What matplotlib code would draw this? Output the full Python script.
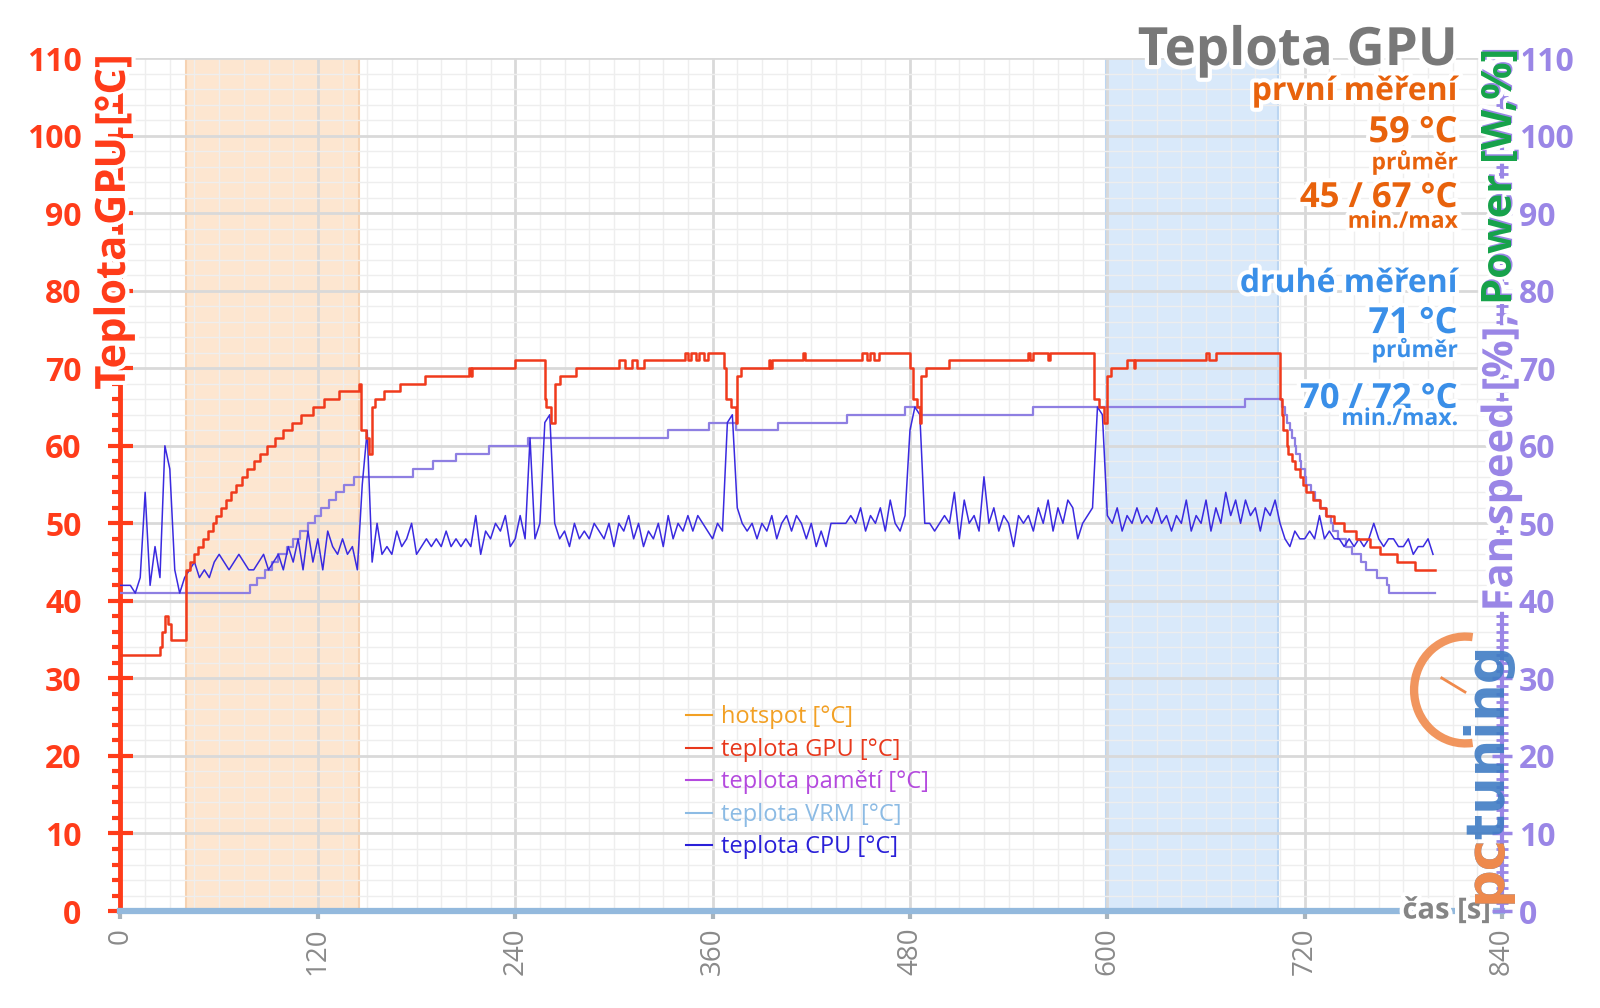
import matplotlib
matplotlib.use("Agg")
import matplotlib.pyplot as plt
import matplotlib.patheffects as pe
from matplotlib.lines import Line2D
from matplotlib.patches import Arc
from matplotlib.ticker import MultipleLocator
import numpy as np

plt.rcParams['font.family'] = ['Open Sans', 'DejaVu Sans']

# ── data ─────────────────────────────────────────────────────────────────
CPU_STEP = 3  # seconds between CPU samples
cpu_temp = [
    42, 42, 42, 41, 43, 54, 42, 47, 43, 60,
    57, 44, 41, 43, 44, 45, 43, 44, 43, 45,
    46, 45, 44, 45, 46, 45, 44, 44, 45, 46,
    44, 45, 46, 44, 47, 45, 48, 44, 49, 45,
    48, 44, 49, 47, 46, 48, 46, 47, 44, 55,
    62, 45, 50, 46, 47, 46, 49, 47, 48, 50,
    46, 47, 48, 47, 48, 47, 49, 47, 48, 47,
    48, 47, 51, 46, 49, 48, 50, 49, 51, 47,
    48, 51, 48, 61, 48, 50, 63, 64, 50, 48,
    49, 47, 50, 48, 49, 48, 50, 49, 48, 50,
    47, 50, 49, 51, 48, 50, 47, 49, 48, 50,
    47, 51, 48, 50, 49, 51, 49, 51, 50, 49,
    48, 50, 49, 63, 64, 52, 50, 49, 50, 48,
    50, 49, 51, 48, 50, 51, 49, 51, 50, 48,
    50, 47, 49, 47, 50, 50, 50, 50, 51, 50,
    52, 49, 51, 50, 52, 49, 53, 50, 49, 51,
    62, 65, 64, 50, 50, 49, 50, 51, 50, 54,
    48, 53, 50, 51, 49, 56, 50, 52, 49, 51,
    50, 47, 51, 50, 51, 49, 52, 50, 53, 49,
    52, 50, 53, 52, 48, 50, 51, 52, 65, 64,
    51, 50, 52, 49, 51, 50, 52, 50, 51, 50,
    52, 50, 51, 49, 51, 50, 53, 49, 51, 50,
    53, 49, 52, 50, 54, 51, 53, 50, 53, 51,
    52, 49, 52, 51, 53, 50, 48, 47, 49, 48,
    48, 49, 48, 51, 48, 49, 48, 48, 47, 48,
    47, 48, 47, 48, 50, 48, 47, 48, 48, 47,
    47, 48, 46, 47, 47, 48, 46,
]

# GPU temperature: (time of change, new value)
gpu_t = [0, 24, 25, 27, 29, 31, 40, 42, 45, 47, 50, 53, 56, 58, 61, 64, 67, 70,
         74, 77, 81, 85, 89, 94, 99, 104, 110, 117, 124, 133, 145, 146, 149, 151,
         153, 155, 160, 170, 185, 212, 213, 214, 240, 258, 259, 262, 264, 267,
         277, 303, 307, 311, 314, 318, 343, 345, 347, 350, 352, 355, 357, 367,
         368, 371, 374, 375, 377, 394, 395, 396, 415, 416, 451, 454, 456, 458,
         461, 480, 482, 484, 486, 487, 490, 504, 552, 553, 555, 564, 565, 592,
         595, 598, 600, 602, 612, 616, 617, 660, 662, 666, 705, 706, 707, 709,
         710, 712, 714, 717, 719, 721, 725, 729, 733, 738, 744, 751, 760, 766,
         776, 787, 799]
gpu_temp = [33, 34, 36, 38, 37, 35, 44, 45, 46, 47, 48, 49, 50, 51, 52, 53, 54, 55,
            56, 57, 58, 59, 60, 61, 62, 63, 64, 65, 66, 67, 68, 62, 61, 59,
            65, 66, 67, 68, 69, 70, 69, 70, 71, 66, 65, 63, 68, 69,
            70, 71, 70, 71, 70, 71, 72, 71, 72, 71, 72, 71, 72, 70,
            66, 65, 63, 69, 70, 71, 70, 71, 72, 71, 72, 71, 72, 71,
            72, 70, 66, 65, 63, 69, 70, 71, 72, 71, 72, 71, 72, 66,
            65, 63, 69, 70, 71, 70, 71, 72, 71, 72, 66, 64, 62, 60,
            59, 58, 57, 56, 55, 54, 53, 52, 51, 50, 49, 48, 47, 46,
            45, 44, 44]

# fan speed [%] (right axis): (time of change, new value)
fan_t = [0, 79, 83, 88, 92, 96, 101, 105, 109, 114, 118, 122, 127, 131, 136, 142,
         178, 190, 204, 224, 248, 333, 358, 374, 400, 442, 477, 487, 555, 684,
         706, 708, 709, 711, 712, 714, 715, 717, 718, 720, 721, 724, 726, 729,
         733, 736, 737, 740, 745, 749, 754, 757, 764, 770, 771, 799]
fan_speed = [41, 42, 43, 44, 45, 46, 47, 48, 49, 50, 51, 52, 53, 54, 55, 56,
             57, 58, 59, 60, 61, 62, 63, 62, 63, 64, 65, 64, 65, 66,
             65, 64, 63, 62, 61, 60, 59, 58, 57, 56, 55, 54, 53, 52,
             51, 50, 49, 48, 47, 46, 45, 44, 43, 42, 41, 41]

x_ticks = [0, 120, 240, 360, 480, 600, 720, 840]
y_ticks = [0, 10, 20, 30, 40, 50, 60, 70, 80, 90, 100, 110]
first_span = (40, 145)
second_span = (599, 704)

legend_labels = ["hotspot [°C]", "teplota GPU [°C]", "teplota pamětí [°C]",
                 "teplota VRM [°C]", "teplota CPU [°C]"]
legend_colors = ["#f2a024", "#e8381c", "#b44ade", "#8cbbe4", "#2a20d8"]

RED = "#ff3c1a"
LAV = "#9a86e6"
GREY = "#8a8a8a"
halo = [pe.withStroke(linewidth=6, foreground="white")]

# ── figure ──────────────────────────────────────────────────────────────
fig = plt.figure(figsize=(16, 10.08), dpi=100)
ax = fig.add_axes([0.0753, 0.0962, 0.8635, 0.8462])
ax.set_xlim(0, 840)
ax.set_ylim(0, 110)

ax.axvspan(*first_span, color="#fde6d0", zorder=0, lw=1.5, ec="#f6d2b2")
ax.axvspan(*second_span, color="#d9e9fa", zorder=0, lw=1.5, ec="#bcd6f2")

ax.set_axisbelow(True)
ax.xaxis.set_minor_locator(MultipleLocator(15))
ax.yaxis.set_minor_locator(MultipleLocator(2))
ax.grid(which="major", color="#d9d9d9", lw=2)
ax.grid(which="minor", color="#eeeeee", lw=1)

cpu_t = np.arange(len(cpu_temp)) * CPU_STEP
ax.plot(fan_t, fan_speed, drawstyle="steps-post", color="#8e7fe2", lw=1.6, zorder=3)
ax.plot(cpu_t, cpu_temp, color="#3a2ae0", lw=1.1, zorder=4)
ax.plot(gpu_t, gpu_temp, drawstyle="steps-post", color="#f03a1c", lw=1.8, zorder=5)

# axes styling
for s in ("top", "right"):
    ax.spines[s].set_visible(False)
ax.spines["left"].set_color(RED)
ax.spines["left"].set_linewidth(3.5)
ax.spines["bottom"].set_color("#93b9dd")
ax.spines["bottom"].set_linewidth(4.5)
ax.spines["bottom"].set_zorder(6)

ax.set_xticks(x_ticks)
ax.set_xticklabels([str(v) for v in x_ticks], rotation=90, color=GREY, fontsize=20)
ax.tick_params(axis="x", which="major", direction="out", length=6, width=3,
               color="#a9b4bc", pad=6)
ax.tick_params(axis="x", which="minor", length=0)

ax.set_yticks(y_ticks)
ax.set_yticklabels([str(v) for v in y_ticks], fontweight="bold", fontsize=23)
ax.tick_params(axis="y", which="major", direction="inout", length=18, width=3,
               color=RED, labelcolor=RED, pad=19)
ax.tick_params(axis="y", which="minor", direction="out", length=6, width=3, color=RED)

ax2 = ax.twinx()
ax2.set_ylim(0, 110)
for s in ("top", "left", "bottom"):
    ax2.spines[s].set_visible(False)
ax2.spines["right"].set_color(LAV)
ax2.spines["right"].set_linewidth(3)
ax2.yaxis.set_minor_locator(MultipleLocator(1))
ax2.set_yticks(y_ticks)
ax2.set_yticklabels([str(v) for v in y_ticks], fontweight="bold", fontsize=23)
ax2.tick_params(axis="y", which="major", direction="inout", length=14, width=2.5,
                color=LAV, labelcolor=LAV, pad=5)
ax2.tick_params(axis="y", which="minor", direction="inout", length=8, width=2, color=LAV)

# legend
handles = [Line2D([], [], color=c, lw=1.5) for c in legend_colors]
leg = ax.legend(handles, legend_labels, loc="upper left", bbox_to_anchor=(0.401, 0.255),
                frameon=False, fontsize=17, handlelength=1.1, handletextpad=0.35,
                labelspacing=0.36, borderpad=0, labelcolor="linecolor")
leg.set_zorder(7)

ax.text(833, 0, "čas [s]", ha="right", va="center", color="#858585", fontsize=21,
        fontweight="bold", path_effects=halo, zorder=8)

# axis titles sitting over the spines
fig.text(0.0715, 0.946, "Teplota GPU [°C]", rotation=90, ha="center", va="top",
         color=RED, fontsize=30, fontweight="bold", path_effects=halo)
fig.text(0.9385, 0.953, "Fan speed [%], Power [W,%]", rotation=90, ha="center",
         va="top", color=LAV, fontsize=30, fontweight="bold", path_effects=halo)
fig.text(0.9385, 0.953, "Power [W,%]", rotation=90, ha="center", va="top",
         color="#16a34a", fontsize=30, fontweight="bold")

# title and summary block
ORANGE = "#e8620c"
BLUE = "#3a8fe8"
xr = 0.911
fig.text(xr, 0.9355, "Teplota GPU", ha="right", va="baseline", color="#787878",
         fontsize=38, fontweight="bold", path_effects=halo)
block = [
    ("první měření", 0.9008, 23, ORANGE),
    ("59 °C", 0.859, 26, ORANGE),
    ("průměr", 0.832, 16.5, ORANGE),
    ("45 / 67 °C", 0.7946, 25, ORANGE),
    ("min./max", 0.774, 16.5, ORANGE),
    ("druhé měření", 0.7103, 23, BLUE),
    ("71 °C", 0.6696, 26, BLUE),
    ("průměr", 0.6458, 16.5, BLUE),
    ("70 / 72 °C", 0.5952, 25, BLUE),
    ("min./max.", 0.5784, 16.5, BLUE),
]
for txt, y, fs, col in block:
    fig.text(xr, y, txt, ha="right", va="baseline", color=col, fontsize=fs,
             fontweight="bold", path_effects=halo)

# pctuning watermark
fig.patches.append(Arc((0.9158, 1 - 690 / 1008), 0.064, 0.106, theta1=85, theta2=275,
                       transform=fig.transFigure, color="#f08a4c", lw=6, alpha=0.9))
fig.lines.append(Line2D([0.9011, 0.9156], [1 - 678 / 1008, 1 - 692 / 1008],
                        transform=fig.transFigure, color="#f08a4c", lw=2))
fig.text(0.9285, 0.104, "pctuning", rotation=90, ha="center", va="bottom",
         color="#3f7cc4", fontsize=38, fontweight="bold", alpha=0.9,
         family="DejaVu Sans")
fig.text(0.9285, 0.104, "pc", rotation=90, ha="center", va="bottom",
         color="#f08a4c", fontsize=38, fontweight="bold", family="DejaVu Sans")

fig.savefig("out.png", dpi=100)
